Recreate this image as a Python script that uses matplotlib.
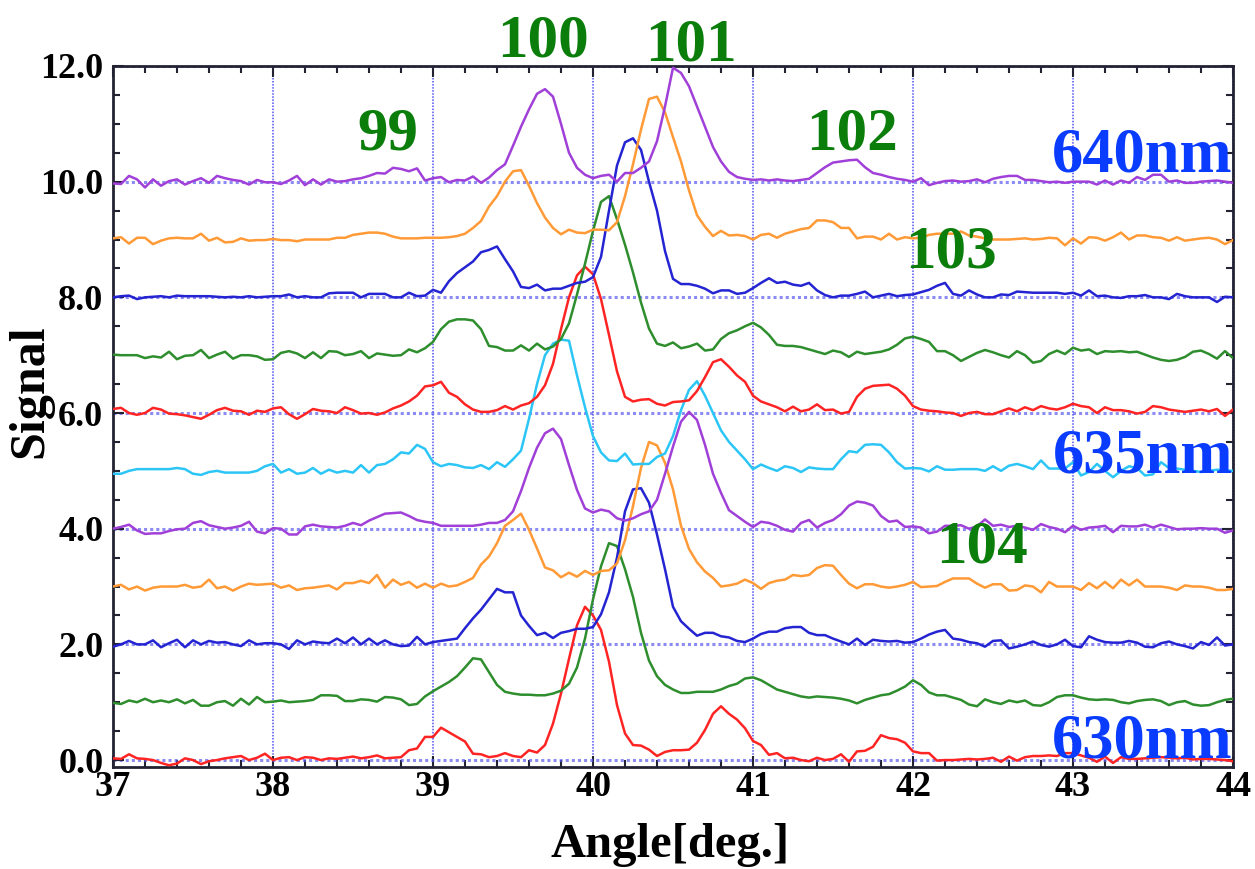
import numpy as np
import matplotlib
matplotlib.use("Agg")
import matplotlib.pyplot as plt
from matplotlib.ticker import MultipleLocator, FormatStrFormatter

# scan angle, 0.05 deg steps from 37 to 44
angle = np.round(np.arange(37.0, 44.0001, 0.05), 2)

# signal of each wavelength (without the vertical offset), one row per degree
wl_630 = [0.03, 0.02, 0.10, 0.03, 0.02, 0.00, -0.05, -0.09, -0.06, 0.03, 0.00, -0.07, -0.02, 0.00, 0.03, 0.05, 0.07, 0.00, 0.04, 0.11,
          0.00, 0.04, 0.05, 0.00, 0.05, 0.04, 0.00, 0.03, 0.02, 0.04, 0.06, 0.03, 0.05, 0.08, 0.03, 0.04, 0.05, 0.17, 0.20, 0.40,
          0.40, 0.56, 0.48, 0.40, 0.32, 0.11, 0.10, 0.05, 0.07, 0.12, 0.07, 0.05, 0.17, 0.13, 0.26, 0.63, 1.15, 1.75, 2.33, 2.65,
          2.50, 2.25, 1.70, 0.95, 0.46, 0.26, 0.25, 0.18, 0.07, 0.14, 0.17, 0.17, 0.18, 0.30, 0.52, 0.80, 0.93, 0.80, 0.70, 0.55,
          0.33, 0.26, 0.09, 0.12, 0.03, 0.04, 0.00, -0.02, 0.04, 0.00, 0.02, 0.10, -0.03, 0.15, 0.16, 0.23, 0.43, 0.38, 0.36, 0.30,
          0.15, 0.12, 0.12, -0.01, 0.00, 0.00, 0.01, 0.02, 0.01, 0.02, 0.04, -0.03, 0.06, -0.01, 0.05, 0.07, 0.07, 0.08, 0.07, 0.12,
          0.12, 0.08, 0.04, -0.03, 0.06, -0.05, 0.05, 0.02, 0.02, 0.03, 0.04, 0.05, 0.04, 0.03, 0.04, 0.01, 0.02, 0.02, 0.01, 0.00,
          -0.02]
wl_631 = [-0.01, -0.03, 0.03, 0.00, 0.06, 0.00, 0.03, 0.00, 0.05, -0.02, 0.04, -0.06, -0.06, 0.00, 0.02, -0.06, 0.06, -0.04, 0.09, 0.00,
          0.01, 0.03, 0.00, 0.01, 0.02, 0.04, 0.12, 0.12, 0.11, 0.02, 0.02, 0.05, 0.04, 0.01, 0.09, 0.08, 0.05, -0.05, -0.03, 0.10,
          0.19, 0.27, 0.35, 0.45, 0.60, 0.76, 0.74, 0.52, 0.30, 0.18, 0.15, 0.13, 0.13, 0.12, 0.12, 0.15, 0.20, 0.32, 0.60, 1.10,
          1.78, 2.35, 2.75, 2.70, 2.30, 1.82, 1.20, 0.72, 0.45, 0.30, 0.22, 0.16, 0.16, 0.18, 0.18, 0.18, 0.22, 0.28, 0.32, 0.41,
          0.43, 0.38, 0.30, 0.22, 0.18, 0.14, 0.10, 0.08, 0.10, 0.09, 0.08, 0.06, 0.03, -0.02, 0.04, 0.08, 0.12, 0.14, 0.20, 0.27,
          0.38, 0.30, 0.17, 0.12, 0.12, 0.08, 0.04, -0.04, -0.07, 0.05, 0.00, -0.03, 0.03, 0.00, 0.03, -0.05, -0.06, 0.00, 0.09, 0.12,
          0.12, 0.08, 0.05, 0.04, 0.05, 0.04, 0.00, -0.02, 0.02, 0.04, 0.05, 0.02, -0.05, 0.00, 0.02, -0.04, -0.06, -0.05, 0.00, 0.04,
          0.06]
wl_632 = [-0.04, 0.00, 0.06, 0.00, 0.00, 0.07, -0.05, 0.02, 0.08, -0.05, 0.07, 0.00, 0.06, 0.03, 0.04, 0.00, -0.03, 0.07, 0.00, 0.02,
          0.02, 0.00, -0.08, 0.07, 0.00, 0.05, 0.03, 0.02, 0.10, 0.02, 0.12, 0.00, 0.10, 0.00, 0.07, 0.00, -0.03, -0.02, 0.13, 0.00,
          0.04, 0.06, 0.08, 0.10, 0.28, 0.45, 0.60, 0.78, 0.96, 0.90, 0.90, 0.50, 0.32, 0.16, 0.20, 0.11, 0.20, 0.23, 0.27, 0.27,
          0.30, 0.52, 0.90, 1.50, 2.30, 2.68, 2.70, 2.45, 1.90, 1.30, 0.65, 0.40, 0.27, 0.15, 0.20, 0.20, 0.14, 0.12, 0.06, 0.04,
          0.10, 0.18, 0.22, 0.22, 0.28, 0.30, 0.30, 0.20, 0.16, 0.16, 0.10, 0.05, 0.00, 0.10, -0.01, 0.08, 0.06, 0.05, 0.06, 0.03,
          0.04, 0.10, 0.17, 0.22, 0.25, 0.10, 0.08, 0.04, 0.02, -0.04, 0.06, 0.07, -0.07, -0.04, 0.00, 0.05, -0.01, -0.04, 0.00, 0.08,
          -0.03, -0.05, 0.14, 0.08, 0.04, 0.03, 0.03, 0.06, 0.03, -0.04, -0.05, 0.02, 0.05, 0.00, -0.03, -0.07, 0.04, -0.01, 0.12, -0.02,
          0.00]
wl_633 = [0.00, 0.03, -0.05, 0.00, -0.07, -0.02, 0.00, 0.00, 0.00, 0.03, -0.02, 0.00, 0.12, -0.03, 0.00, -0.07, 0.00, 0.05, 0.03, 0.04,
          0.05, -0.02, 0.02, -0.06, -0.03, -0.02, 0.00, 0.02, -0.05, 0.06, 0.06, 0.10, 0.06, 0.20, -0.02, 0.12, 0.03, 0.08, -0.02, 0.05,
          -0.02, 0.05, 0.00, 0.02, 0.08, 0.15, 0.38, 0.52, 0.75, 1.05, 1.15, 1.26, 0.98, 0.66, 0.33, 0.28, 0.16, 0.24, 0.17, 0.27,
          0.20, 0.27, 0.28, 0.40, 0.80, 1.39, 2.05, 2.50, 2.44, 2.14, 1.68, 1.05, 0.65, 0.42, 0.26, 0.15, 0.00, 0.02, 0.05, 0.12,
          0.06, -0.04, 0.06, 0.10, 0.12, 0.20, 0.18, 0.20, 0.32, 0.37, 0.36, 0.20, 0.05, -0.03, 0.04, 0.04, 0.00, -0.02, 0.00, 0.03,
          0.08, -0.01, 0.00, 0.01, 0.08, 0.14, 0.14, 0.14, 0.05, -0.02, 0.04, 0.04, -0.07, -0.06, 0.02, 0.00, -0.10, 0.08, 0.00, 0.00,
          0.00, -0.06, 0.06, -0.03, 0.08, -0.03, 0.12, 0.02, 0.12, 0.00, 0.00, 0.00, -0.02, -0.06, 0.02, 0.00, 0.00, -0.02, -0.06, -0.06,
          -0.04]
wl_634 = [0.00, 0.03, 0.07, -0.03, -0.09, -0.08, -0.08, -0.04, -0.01, 0.00, 0.10, 0.13, 0.06, 0.03, 0.00, 0.02, 0.05, 0.12, -0.05, -0.08,
          0.01, 0.00, -0.10, -0.10, 0.04, 0.07, 0.04, 0.03, 0.02, 0.05, 0.10, 0.06, 0.14, 0.20, 0.26, 0.27, 0.28, 0.22, 0.15, 0.12,
          0.10, 0.05, 0.05, 0.05, 0.05, 0.05, 0.07, 0.10, 0.10, 0.15, 0.30, 0.65, 1.05, 1.40, 1.65, 1.73, 1.55, 1.10, 0.67, 0.35,
          0.28, 0.33, 0.30, 0.18, 0.14, 0.18, 0.25, 0.30, 0.50, 0.95, 1.42, 1.85, 2.02, 1.88, 1.45, 0.95, 0.62, 0.32, 0.22, 0.12,
          0.03, 0.12, 0.10, 0.05, -0.02, -0.05, 0.10, 0.15, 0.02, 0.10, 0.15, 0.25, 0.40, 0.47, 0.45, 0.40, 0.22, 0.12, 0.14, 0.03,
          0.04, 0.02, -0.08, -0.05, 0.05, 0.05, 0.06, 0.00, 0.04, 0.16, 0.05, 0.07, 0.03, 0.05, 0.02, -0.02, 0.08, 0.03, 0.00, -0.06,
          0.05, -0.02, 0.02, 0.03, 0.05, -0.06, 0.05, 0.04, 0.04, 0.07, 0.02, 0.07, 0.03, -0.01, 0.00, 0.00, 0.01, 0.00, 0.00, -0.07,
          -0.03]
wl_635 = [-0.05, -0.05, 0.00, 0.03, 0.03, 0.03, 0.03, 0.03, 0.05, 0.03, -0.05, -0.07, -0.02, 0.00, -0.03, -0.03, -0.03, -0.03, 0.00, 0.08,
          0.12, -0.03, 0.03, -0.05, -0.03, 0.05, -0.05, 0.02, -0.03, 0.00, -0.03, 0.10, -0.03, 0.10, 0.12, 0.20, 0.32, 0.30, 0.45, 0.38,
          0.15, 0.08, 0.12, 0.10, 0.06, 0.05, 0.10, 0.03, 0.15, 0.07, 0.20, 0.35, 0.90, 1.50, 2.00, 2.20, 2.27, 2.25, 1.65, 1.10,
          0.60, 0.32, 0.18, 0.17, 0.30, 0.11, 0.12, 0.12, 0.24, 0.30, 0.60, 1.05, 1.40, 1.55, 1.30, 1.00, 0.70, 0.50, 0.35, 0.20,
          0.03, 0.11, 0.05, 0.00, 0.08, 0.05, -0.02, 0.06, 0.04, 0.03, 0.03, 0.20, 0.34, 0.32, 0.45, 0.46, 0.45, 0.32, 0.15, 0.04,
          0.05, 0.04, -0.01, 0.08, 0.02, 0.02, 0.03, 0.03, 0.03, 0.00, 0.08, 0.00, 0.09, 0.12, 0.08, 0.03, 0.18, 0.04, 0.04, 0.04,
          0.15, -0.08, -0.02, 0.12, 0.00, -0.11, 0.00, 0.08, 0.05, -0.08, -0.06, 0.15, 0.05, 0.04, 0.02, 0.00, -0.02, 0.00, 0.02, 0.01,
          0.00]
wl_636 = [0.07, 0.09, 0.00, -0.03, 0.00, 0.09, 0.06, -0.01, -0.02, -0.04, -0.07, -0.10, -0.03, 0.05, 0.09, 0.04, 0.03, -0.03, 0.04, 0.02,
          0.08, 0.10, -0.02, -0.10, -0.02, 0.07, 0.04, 0.03, 0.00, 0.10, 0.05, -0.01, 0.00, -0.03, 0.01, 0.08, 0.13, 0.20, 0.30, 0.46,
          0.48, 0.54, 0.35, 0.28, 0.15, 0.06, 0.02, 0.02, 0.05, 0.12, 0.06, 0.13, 0.17, 0.28, 0.48, 0.85, 1.45, 2.00, 2.38, 2.53,
          2.40, 1.97, 1.35, 0.72, 0.28, 0.20, 0.23, 0.24, 0.16, 0.13, 0.19, 0.20, 0.22, 0.38, 0.62, 0.88, 0.93, 0.80, 0.65, 0.54,
          0.30, 0.20, 0.15, 0.10, 0.03, 0.11, 0.03, 0.06, 0.15, 0.05, 0.06, -0.01, 0.02, 0.28, 0.42, 0.47, 0.48, 0.49, 0.42, 0.30,
          0.12, 0.06, 0.04, 0.03, 0.01, 0.00, -0.05, 0.00, 0.02, -0.02, -0.02, 0.03, 0.08, 0.03, 0.10, 0.05, 0.12, 0.08, 0.06, 0.10,
          0.16, 0.12, 0.10, 0.00, 0.10, 0.05, 0.05, 0.03, -0.01, 0.02, 0.12, 0.10, 0.06, 0.04, 0.02, 0.04, 0.06, 0.03, 0.07, -0.05,
          0.06]
wl_637 = [0.01, 0.00, 0.00, 0.00, -0.05, -0.02, -0.04, 0.06, -0.07, -0.01, 0.00, 0.09, -0.05, 0.01, 0.06, -0.06, 0.00, 0.00, -0.02, -0.08,
          -0.07, 0.04, 0.07, 0.03, -0.05, 0.05, -0.05, 0.07, 0.06, 0.00, 0.02, 0.07, -0.05, 0.03, 0.01, -0.01, 0.00, 0.10, 0.05, 0.12,
          0.23, 0.45, 0.58, 0.62, 0.62, 0.60, 0.45, 0.16, 0.14, 0.08, 0.08, 0.17, 0.08, 0.20, 0.10, 0.15, 0.28, 0.55, 1.05, 1.58,
          2.15, 2.65, 2.75, 2.35, 1.91, 1.43, 0.91, 0.46, 0.20, 0.16, 0.22, 0.12, 0.15, 0.20, 0.08, 0.10, 0.28, 0.38, 0.43, 0.50,
          0.56, 0.48, 0.35, 0.18, 0.16, 0.16, 0.14, 0.10, 0.06, 0.02, 0.08, 0.05, -0.03, 0.06, 0.02, 0.04, 0.06, 0.10, 0.18, 0.29,
          0.32, 0.28, 0.23, 0.07, 0.07, 0.00, -0.10, -0.03, 0.04, 0.09, 0.05, 0.00, -0.04, 0.07, 0.00, -0.13, -0.10, 0.02, 0.08, 0.02,
          0.13, 0.08, 0.10, 0.02, 0.07, 0.06, 0.07, 0.05, 0.06, 0.01, -0.04, -0.08, -0.10, -0.08, -0.03, 0.06, 0.08, 0.02, -0.06, 0.07,
          -0.05]
wl_638 = [0.00, 0.02, 0.03, -0.03, 0.00, 0.01, 0.02, 0.00, 0.03, 0.02, 0.02, 0.02, 0.02, 0.01, 0.00, 0.01, 0.00, 0.02, 0.00, 0.01,
          0.02, 0.02, 0.05, 0.00, 0.02, 0.00, 0.00, 0.07, 0.08, 0.08, 0.08, 0.00, 0.06, 0.06, 0.06, 0.00, 0.00, 0.08, 0.02, 0.03,
          0.13, 0.08, 0.28, 0.42, 0.52, 0.62, 0.78, 0.82, 0.88, 0.66, 0.45, 0.18, 0.16, 0.22, 0.12, 0.15, 0.15, 0.20, 0.25, 0.27,
          0.35, 0.70, 1.50, 2.28, 2.68, 2.75, 2.55, 2.00, 1.50, 0.80, 0.32, 0.23, 0.23, 0.20, 0.15, 0.07, 0.12, 0.12, 0.06, 0.08,
          0.16, 0.25, 0.33, 0.25, 0.27, 0.22, 0.20, 0.25, 0.12, 0.04, 0.00, 0.03, 0.03, 0.06, 0.10, 0.00, 0.03, 0.06, 0.02, 0.04,
          0.05, 0.09, 0.13, 0.20, 0.25, 0.06, 0.03, 0.12, 0.05, 0.00, 0.00, 0.05, 0.04, 0.10, 0.09, 0.08, 0.08, 0.08, 0.08, 0.06,
          0.08, 0.03, 0.12, 0.02, 0.03, 0.00, -0.01, 0.02, 0.02, 0.04, 0.00, 0.00, -0.03, 0.06, 0.02, 0.00, 0.00, 0.00, -0.08, 0.01,
          0.00]
wl_639 = [0.02, 0.04, -0.07, 0.03, 0.03, -0.08, -0.02, 0.02, 0.03, 0.02, 0.02, 0.10, -0.02, 0.03, -0.05, -0.04, 0.02, -0.02, -0.01, -0.01,
          0.01, -0.01, -0.01, -0.03, 0.00, 0.00, 0.00, 0.00, 0.03, 0.03, 0.08, 0.10, 0.12, 0.12, 0.10, 0.05, 0.02, 0.02, 0.02, 0.03,
          0.03, 0.03, 0.04, 0.06, 0.10, 0.20, 0.32, 0.57, 0.75, 1.00, 1.18, 1.20, 0.93, 0.63, 0.38, 0.20, 0.09, 0.17, 0.12, 0.11,
          0.17, 0.17, 0.16, 0.30, 0.75, 1.30, 1.90, 2.43, 2.47, 2.20, 1.77, 1.35, 0.85, 0.42, 0.22, 0.06, 0.15, 0.07, 0.08, 0.06,
          0.00, 0.08, 0.10, 0.03, 0.10, 0.14, 0.18, 0.20, 0.33, 0.33, 0.30, 0.20, 0.20, 0.02, 0.05, 0.05, 0.00, 0.10, 0.00, 0.04,
          0.02, 0.03, 0.08, 0.10, 0.10, 0.10, 0.14, 0.07, 0.05, 0.02, 0.00, 0.00, 0.00, 0.01, 0.02, 0.00, 0.01, 0.03, 0.02, -0.10,
          0.02, -0.07, 0.04, 0.03, -0.02, 0.04, 0.12, 0.00, 0.07, 0.07, 0.04, 0.03, -0.02, 0.04, -0.02, 0.00, 0.02, 0.03, 0.00, -0.08,
          -0.01]
wl_640 = [-0.03, -0.04, 0.10, 0.04, -0.10, 0.04, -0.07, 0.01, 0.04, -0.05, 0.01, 0.06, -0.02, 0.10, 0.06, 0.03, 0.01, -0.05, 0.03, -0.01,
          -0.01, -0.04, 0.02, 0.10, -0.06, 0.04, -0.05, 0.04, 0.00, 0.01, 0.04, 0.06, 0.10, 0.15, 0.14, 0.24, 0.22, 0.18, 0.23, 0.02,
          0.06, 0.08, -0.01, 0.03, 0.02, 0.09, -0.02, 0.07, 0.20, 0.30, 0.62, 0.95, 1.25, 1.52, 1.60, 1.47, 1.00, 0.50, 0.24, 0.12,
          0.06, 0.10, 0.12, 0.00, 0.15, 0.15, 0.24, 0.35, 0.70, 1.30, 1.97, 1.88, 1.65, 1.30, 0.95, 0.60, 0.35, 0.17, 0.08, 0.05,
          0.03, 0.04, 0.02, 0.04, 0.02, 0.01, 0.03, 0.05, 0.15, 0.25, 0.33, 0.35, 0.37, 0.38, 0.25, 0.15, 0.12, 0.08, 0.05, 0.03,
          0.00, 0.06, -0.06, -0.02, 0.01, 0.02, 0.00, 0.01, 0.04, -0.01, 0.05, 0.08, 0.10, 0.10, 0.03, 0.03, 0.01, -0.01, 0.00, -0.02,
          0.00, 0.00, 0.00, -0.05, 0.02, -0.05, 0.02, -0.02, 0.08, 0.03, 0.12, 0.12, 0.00, 0.02, -0.02, -0.02, 0.00, 0.01, 0.02, 0.00,
          -0.02]

traces = [wl_630, wl_631, wl_632, wl_633, wl_634, wl_635,
          wl_636, wl_637, wl_638, wl_639, wl_640]
offsets = [0, 1, 2, 3, 4, 5, 6, 7, 8, 9, 10]
palette = ["#ff2424", "#2e8e2e", "#2424d2", "#ff9a36", "#a040d8", "#2cc6f6"]

# peak orders and wavelength tags
order_labels = ["99", "100", "101", "102", "103", "104"]
order_x = [38.72, 39.69, 40.61, 41.62, 42.24, 42.43]
order_y = [10.55, 12.16, 12.10, 10.55, 8.51, 3.41]
wave_labels = ["640nm", "635nm", "630nm"]
wave_y = [10.17, 4.98, 0.05]

plt.rcParams["font.family"] = "Liberation Serif"
plt.rcParams["font.weight"] = "bold"

fig = plt.figure(figsize=(12.55, 8.69), dpi=100)
ax = fig.add_axes([113 / 1255, 1 - 767 / 869, 1120 / 1255, 701 / 869])

for i, (vals, off) in enumerate(zip(traces, offsets)):
    ax.plot(angle, np.array(vals) + off, color=palette[i % 6], lw=1.8, zorder=3)

ax.set_xlim(37, 44)
ax.set_ylim(-0.12, 12)
ax.xaxis.set_major_locator(MultipleLocator(1))
ax.xaxis.set_minor_locator(MultipleLocator(0.2))
ax.yaxis.set_major_locator(MultipleLocator(2))
ax.yaxis.set_minor_locator(MultipleLocator(0.5))
ax.yaxis.set_major_formatter(FormatStrFormatter("%.1f"))

ax.set_axisbelow(True)
ax.xaxis.grid(True, color="#3c3cf0", lw=1.1, ls=(0, (1, 1)), alpha=0.9)
ax.yaxis.grid(True, color="#5a5aee", lw=2.2, ls=(0, (1, 1)), alpha=0.7)

ax.tick_params(which="both", direction="in", top=True, right=True,
               color="#222233", width=1.5, labelsize=26)
ax.tick_params(which="major", length=8)
ax.tick_params(which="minor", length=5)
ax.tick_params(axis="x", pad=3)
ax.tick_params(axis="y", pad=7)
for sp in ax.spines.values():
    sp.set_color("#222233")
    sp.set_linewidth(2)

fig.text(30 / 1255, 1 - 391 / 869, "Signal", rotation=90, fontsize=36,
         ha="center", va="center")
fig.text(670 / 1255, 1 - 857 / 869, "Angle[deg.]", fontsize=35,
         ha="center", va="baseline")

for lab, x, y in zip(order_labels, order_x, order_y):
    ax.text(x, y, lab, color="#0a7d0a", fontsize=44, ha="center",
            va="baseline", clip_on=False, zorder=5)
for lab, y in zip(wave_labels, wave_y):
    ax.text(44.0, y, lab, color="#0a3cff", fontsize=45, ha="right",
            va="baseline", clip_on=False, zorder=5)

fig.savefig("out.png", dpi=100)
